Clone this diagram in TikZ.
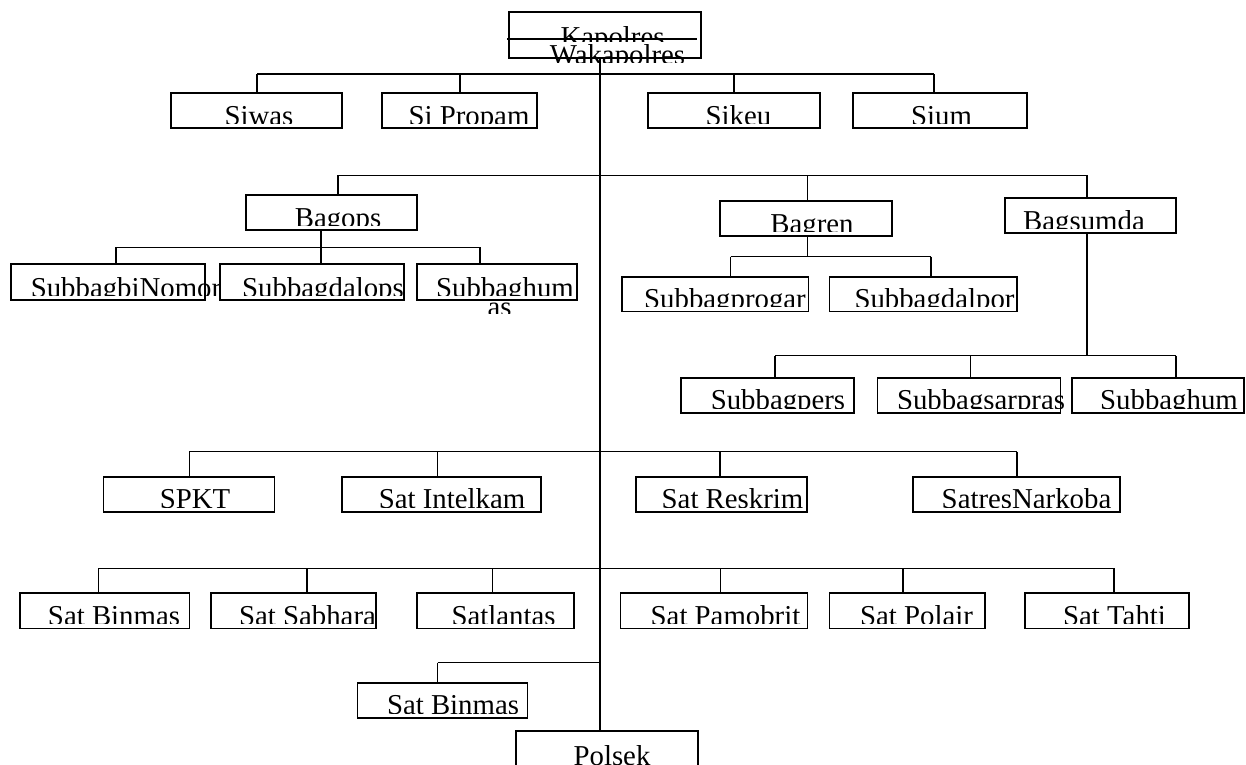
\documentclass[tikz,border=0pt]{standalone}
\usepackage{fontspec}
\setmainfont{Liberation Serif}
\newcommand{\orgbx}[7]{%
  \node[orgbox, minimum width={(#4-#2)*1pt}, minimum height={(#5-#3)*1pt}] (#1) at ({(#2+#4)/2},{(#3+#5)/2}) {};
  \begin{scope}
    \clip ({#2-60},{#3}) rectangle ({#4+60},{#5-4.5});
    \node[lbl] (#1-t) at (#6,{#5-3}) {#7};
  \end{scope}}
\begin{document}
\begin{tikzpicture}[x=1pt,y=-1pt,
  orgbox/.style={draw, line width=1.6pt, inner sep=0pt, outer sep=0pt},
  conn/.style={line width=1.4pt},
  lbl/.style={anchor=base, inner sep=0pt, outer sep=0pt, font=\fontsize{28.8}{28.8}\selectfont}]
\useasboundingbox (0,0) rectangle (1246,764);
\clip (0,0) rectangle (1246,764);
\fill[white] (0,0) rectangle (1246,764);

% top box
\node[orgbox, minimum width=192pt, minimum height=46pt] (kap) at (605,35) {};
\begin{scope}
  \clip (480,10) rectangle (730,41.5);
  \node[lbl] (kap-t) at (612.5,46.8) {Kapolres};
\end{scope}
\begin{scope}
  \clip (480,40) rectangle (730,62);
  \node[lbl] (waka-t) at (617.5,64.2) {Wakapolres};
\end{scope}
\draw[line width=1.5pt] (507,39) -- (697,39);

% level 1
\orgbx{siwas}{171}{93}{342}{128}{259}{Siwas}
\orgbx{sipropam}{382}{93}{537}{128}{469}{Si Propam}
\orgbx{sikeu}{648}{93}{820}{128}{738.5}{Sikeu}
\orgbx{sium}{853}{93}{1027}{128}{941.5}{Sium}

% level 2
\orgbx{bagops}{246}{195}{417}{230}{338}{Bagops}
\orgbx{bagren}{720}{201}{892}{236}{812}{Bagren}
\orgbx{bagsumda}{1005}{198}{1176}{233}{1084}{Bagsumda}

\orgbx{sbnomor}{11}{264}{205}{300}{126}{SubbagbiNomor}
\orgbx{sbdalops}{220}{264}{404}{300}{323}{Subbagdalops}
\orgbx{sbhumas}{417}{264}{577}{300}{505}{Subbaghum}
\begin{scope}
  \clip (440,300) rectangle (560,313);
  \node[lbl] (sbhumas-t2) at (499.5,316) {as};
\end{scope}
\orgbx{sbprogar}{621.7}{276.7}{808.3}{311.3}{725}{Subbagprogar}
\orgbx{sbdalpor}{829.3}{276.7}{1016.7}{311.3}{934.5}{Subbagdalpor}
\orgbx{sbpers}{680.7}{377.7}{854}{412.7}{778}{Subbagpers}
\orgbx{sbsarpras}{877.5}{377.7}{1060.6}{412.7}{981}{Subbagsarpras}
\orgbx{sbhum}{1072}{377.7}{1243.7}{412.7}{1169}{Subbaghum}

% level 3
\orgbx{spkt}{103.6}{476.7}{274.6}{511.7}{195}{SPKT}
\orgbx{intelkam}{341.8}{476.7}{540.7}{511.7}{452}{Sat Intelkam}
\orgbx{reskrim}{636}{476.7}{807}{511.7}{732.5}{Sat Reskrim}
\orgbx{narkoba}{913}{476.7}{1120}{511.7}{1026.5}{SatresNarkoba}

% level 4
\orgbx{binmas}{20}{592.7}{189.4}{628.3}{114}{Sat Binmas}
\orgbx{sabhara}{211}{592.7}{376}{628.3}{307.5}{Sat Sabhara}
\orgbx{lantas}{417}{592.7}{574}{628.3}{503.5}{Satlantas}
\orgbx{pamobrit}{620.6}{592.7}{807.3}{628.3}{725.5}{Sat Pamobrit}
\orgbx{polair}{829.5}{592.7}{985}{628.3}{916.5}{Sat Polair}
\orgbx{tahti}{1025}{592.7}{1189}{628.3}{1114.5}{Sat Tahti}

% level 5
\orgbx{binmasb}{357.3}{682.7}{527.3}{717.7}{453}{Sat Binmas}
\node[orgbox, minimum width=182pt, minimum height=70pt] (polsek) at (606.7,765.7) {};
\node[lbl] (polsek-t) at (612,765.5) {Polsek};

% connectors
\coordinate (T) at (600,0);
\draw[conn] (kap.south -| T) -- (polsek.north -| T);

\draw[conn] (257,74) -- (934,74);
\draw[conn] (257,74) |- (siwas.north);
\draw[conn] (460,74) |- (sipropam.north);
\draw[conn] (734,74) |- (sikeu.north);
\draw[conn] (934,74) |- (sium.north);

\draw[conn] (338,175.3) -- (1087,175.3);
\draw[conn] (338,175.3) |- (bagops.north);
\draw[conn] (807.7,175.3) |- (bagren.north);
\draw[conn] (1087,175.3) |- (bagsumda.north);

\coordinate (bo) at (321,247.3);
\draw[conn] (bo |- bagops.south) -- (bo);
\draw[conn] (116,247.3) -- (480,247.3);
\draw[conn] (116,247.3) |- (sbnomor.north);
\draw[conn] (321,247.3) |- (sbdalops.north);
\draw[conn] (480,247.3) |- (sbhumas.north);

\coordinate (br) at (807.7,256.7);
\draw[conn] (br |- bagren.south) -- (br);
\draw[conn] (730.7,256.7) -- (931,256.7);
\draw[conn] (730.7,256.7) |- (sbprogar.north);
\draw[conn] (931,256.7) |- (sbdalpor.north);

\coordinate (bs) at (1087,355.7);
\draw[conn] (bs |- bagsumda.south) -- (bs);
\draw[conn] (775,355.7) -- (1176,355.7);
\draw[conn] (775,355.7) |- (sbpers.north);
\draw[conn] (970.5,355.7) |- (sbsarpras.north);
\draw[conn] (1176,355.7) |- (sbhum.north);

\draw[conn] (189.3,451.7) -- (1017,451.7);
\draw[conn] (189.3,451.7) |- (spkt.north);
\draw[conn] (437.5,451.7) |- (intelkam.north);
\draw[conn] (720,451.7) |- (reskrim.north);
\draw[conn] (1017,451.7) |- (narkoba.north);

\draw[conn] (98.7,568.3) -- (1113.8,568.3);
\draw[conn] (98.7,568.3) |- (binmas.north);
\draw[conn] (307,568.3) |- (sabhara.north);
\draw[conn] (492.5,568.3) |- (lantas.north);
\draw[conn] (720.3,568.3) |- (pamobrit.north);
\draw[conn] (902.8,568.3) |- (polair.north);
\draw[conn] (1113.8,568.3) |- (tahti.north);

\draw[conn] (437.7,662.7) -- (T |- 0,662.7);
\draw[conn] (437.7,662.7) |- (binmasb.north);
\end{tikzpicture}
\end{document}
